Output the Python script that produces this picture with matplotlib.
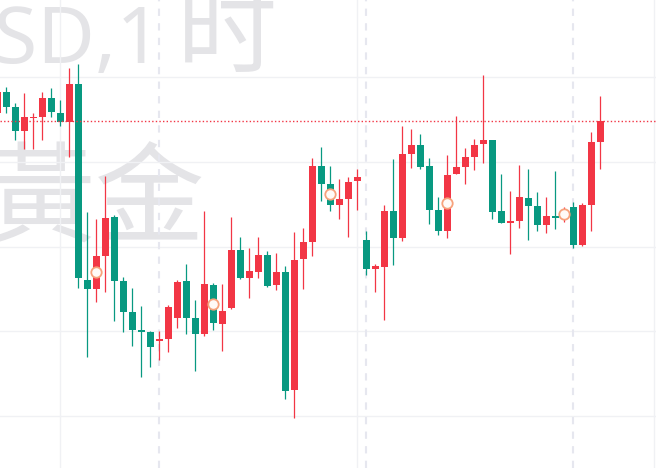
import matplotlib
matplotlib.use("Agg")
import matplotlib.pyplot as plt
import numpy as np

# OHLC of the hourly candles, left to right (first one is cut by the left edge)
opens = [355, 375.7, 361, 337.3, 350.2, 351.3, 370, 355, 346.3, 384,
         188, 179.3, 212.3, 251, 187, 156, 138, 136, 127.3, 129,
         149.7, 187.3, 150, 133.7, 183, 144.3, 159.7, 218, 190.3, 196.3,
         213, 183, 196, 78.3, 209.3, 226.3, 302, 284, 263.3, 269.3,
         287.3, 228, 199.3, 201.3, 257, 230.3, 314.3, 323, 302, 258.3,
         237.3, 294.3, 301, 311.3, 324.3, 328, 257, 245.3, 247.3, 270,
         262, 243.3, 252.3, 253.5, 261, 223.3, 263.3, 326.3]
highs = [380, 381.3, 365, 375, 355.3, 376, 380, 368, 400, 404,
         256, 249, 292.3, 253, 191, 180, 162.3, 137, 137, 163,
         188, 204, 168, 257, 184.7, 184, 251.3, 230.7, 219.7, 230.7,
         217, 215, 202, 236, 240, 310, 321.3, 302, 288.7, 291,
         299, 237, 204, 263, 309, 342, 339, 334, 310, 271,
         313, 352, 320, 329, 393, 328, 294, 277, 303, 299,
         276, 271, 297, 261, 266, 265, 336, 372]
lows = [352, 355.3, 328, 318.7, 318.7, 328, 350.7, 342.3, 311.3, 180.3,
        111.3, 166.3, 176.3, 147.3, 136.3, 122.3, 91.3, 101.3, 108, 116.3,
        139.7, 133.7, 97.3, 132, 138, 117.3, 158.7, 189.5, 170.3, 190.3,
        181, 178.3, 69.3, 50.3, 179.3, 212.3, 267.3, 257.3, 249.3, 231.3,
        258, 193.3, 176, 148, 203, 227.3, 300.3, 299.3, 244.3, 233.3,
        230.3, 294.3, 284.3, 298.3, 305.3, 249.3, 245.3, 214.3, 240.3, 228.3,
        237.3, 235.3, 239.3, 246, 220.3, 222.3, 237.3, 299.3]
closes = [376, 361.3, 337.3, 351, 350.7, 370, 356.3, 346.3, 384, 189.7,
          179.3, 212, 250, 187.3, 156.3, 138.3, 136.3, 121.3, 129, 161.3,
          186, 149.7, 133.7, 184, 144.7, 157, 218, 190.3, 197, 213,
          182, 196, 77.3, 208, 226, 302, 284.3, 263.3, 269, 286,
          291, 199.3, 202, 257, 230.3, 314, 323, 301.3, 258.3, 237.3,
          293, 301, 311, 323, 328, 256.3, 245.3, 246.7, 271, 262.3,
          243.3, 252, 250.3, 254, 223.3, 263, 326, 347]

# candles carrying an event marker
event_idx = [11, 24, 37, 50, 63]
# hour positions of day breaks and of the time grid
session_breaks = [17, 40, 63]
time_grid = [6, 39, 72]

UP = '#F23645'
DOWN = '#089981'
W, H = 656, 468


def px(x, y):
    # figure pixel (from top left) -> axes fraction
    return x / W, 1 - y / H


fig = plt.figure(figsize=(W / 100, H / 100), dpi=100)
ax = fig.add_axes([0, 0, 1, 1])
ax.set_xlim(-0.7, 72.19)
ax.set_ylim(0, 468)
ax.axis('off')

# watermark
wm = '#e4e4e7'
ax.text(*px(162, 63), 'XAUUSD,1', transform=ax.transAxes, ha='right', va='baseline',
        fontsize=57, family='Noto Sans', color=wm, zorder=0)
ax.text(*px(277, 65), '时', transform=ax.transAxes, ha='right', va='baseline',
        fontsize=72, family='Noto Sans CJK SC', color=wm, zorder=0)
ax.text(*px(205, 234), '黃金', transform=ax.transAxes, ha='right', va='baseline',
        fontsize=79, family='Noto Sans CJK TC', color=wm, zorder=0)

# grid
for yv in np.linspace(52, 391, 5):
    ax.axhline(yv, color='#f0f1f4', lw=1, zorder=1)
for xv in time_grid:
    ax.axvline(xv, color='#f0f1f4', lw=1, zorder=1)
for xv in session_breaks:
    ax.axvline(xv, color='#e6e7ef', lw=1.5, linestyle=(0, (3.5, 3.5)), zorder=1.5)

x = np.arange(len(opens)) - 1
o = np.array(opens)
h = np.array(highs)
l = np.array(lows)
c = np.array(closes)
colors = np.where(c >= o, UP, DOWN)

ax.vlines(x, l, h, colors=colors, lw=0.9, zorder=3)
bottom = np.minimum(o, c)
height = np.maximum(np.abs(c - o), 1.2)
ax.bar(x, height, bottom=bottom, width=0.78, color=colors, linewidth=0, zorder=4)

# last price line
ax.axhline(closes[-1], color=UP, lw=1, linestyle=(0, (1, 1.6)), zorder=5)

# event markers on the body middle
ex = x[event_idx]
ey = (o[event_idx] + c[event_idx]) / 2
ax.plot(ex, ey, 'o', ms=7.5, mfc='#fffaf7', mec='#f7a27c', mew=1.3, zorder=6)

fig.savefig('out.png', dpi=100)
